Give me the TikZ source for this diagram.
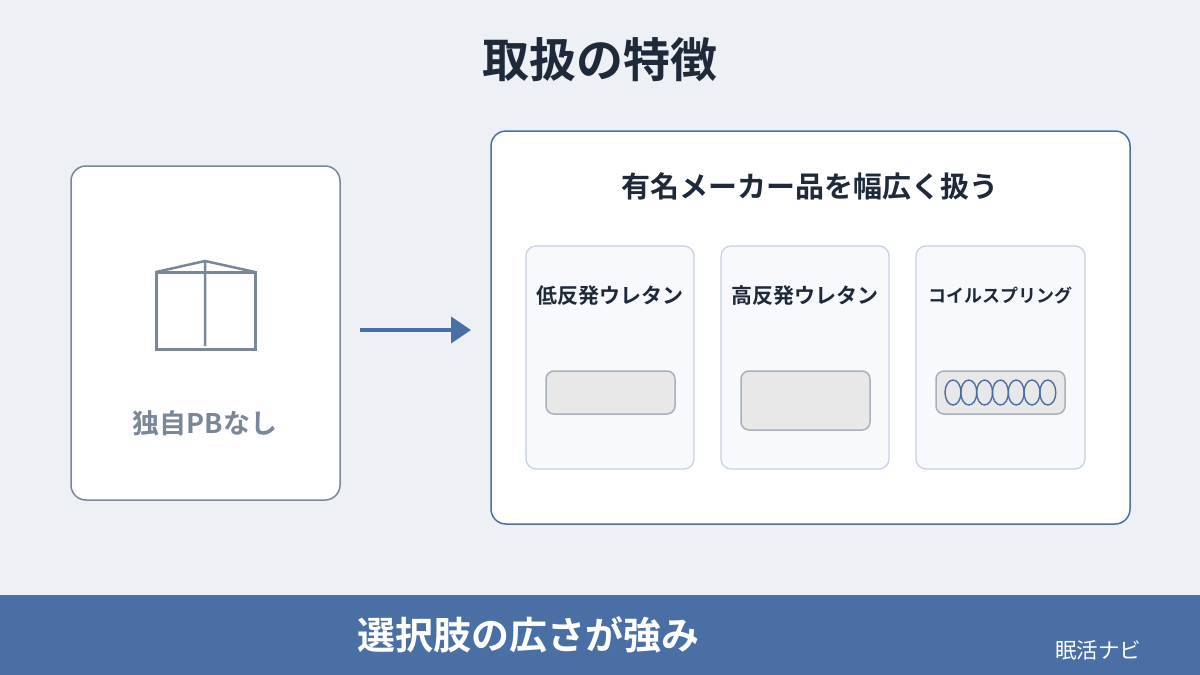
\documentclass[tikz,border=0pt]{standalone}
\usepackage{fontspec}
\setmainfont{Noto Sans CJK JP}[BoldFont={Noto Sans CJK JP Bold}]
\usetikzlibrary{arrows.meta}
\definecolor{bg}{HTML}{EDF0F5}
\definecolor{dark}{HTML}{1E2A3A}
\definecolor{gr}{HTML}{7A8799}
\definecolor{bl}{HTML}{4A6FA5}
\definecolor{sub}{HTML}{F7F9FC}
\definecolor{subl}{HTML}{C5D0E0}
\definecolor{pad}{HTML}{E8E8E8}
\definecolor{padl}{HTML}{A8B0BC}
\begin{document}
\begin{tikzpicture}[x=1pt,y=-1pt,
 card/.style={draw,fill=white,rounded corners=15pt,line width=1.5pt},
 subc/.style={draw=subl,fill=sub,rounded corners=10pt,line width=1.2pt},
 padc/.style={draw=padl,fill=pad,rounded corners=8pt,line width=1.5pt},
 lab/.style={font=\bfseries\fontsize{21}{24}\selectfont,text=dark}]
\fill[bg] (0,0) rectangle (1200,675);
\node[font=\bfseries\fontsize{47}{52}\selectfont,text=dark] (title) at (600,60) {取扱の特徴};
\draw[card,draw=gr] (71,166) rectangle (340,500);
\draw[gr,line width=3pt] (156,272) rectangle (255,349);
\draw[gr,line width=2.5pt] (156,272) -- (205,261) -- (255,272) (205,261) -- (205,346);
\node[font=\bfseries\fontsize{27}{30}\selectfont,text=gr] (left) at (205,423) {独自PBなし};
\coordinate (a1) at (360,330); \coordinate (a2) at (471,330);
\draw[bl,line width=4pt,-{Triangle[length=20pt,width=26pt]}] (a1) -- (a2);
\draw[card,draw=bl] (491,131) rectangle (1130,524);
\node[font=\bfseries\fontsize{29}{32}\selectfont,text=dark] (head) at (810,186) {有名メーカー品を幅広く扱う};
\draw[subc] (526,246) rectangle (694,469);
\draw[subc] (721,246) rectangle (889,469);
\draw[subc] (916,246) rectangle (1085,469);
\node[lab] (l1) at (610,296) {低反発ウレタン};
\node[lab] (l2) at (805,296) {高反発ウレタン};
\node[lab,font=\bfseries\fontsize{18}{20}\selectfont] (l3) at (1000,296) {コイルスプリング};
\draw[padc] (546,371) rectangle (675,414);
\draw[padc] (741,371) rectangle (870,430);
\draw[padc] (936,371) rectangle (1065,414);
\foreach \i in {0,...,6}
  \draw[bl,line width=1.4pt] ({953+15.8*\i},392.5) ellipse [x radius=8, y radius=12.5];
\fill[bl] (0,595) rectangle (1200,675);
\node[font=\bfseries\fontsize{38}{42}\selectfont,text=white] (foot) at (528,635) {選択肢の広さが強み};
\node[font=\fontsize{21.5}{24}\selectfont,text=white] (brand) at (1098,650) {眠活ナビ};
\end{tikzpicture}
\end{document}
